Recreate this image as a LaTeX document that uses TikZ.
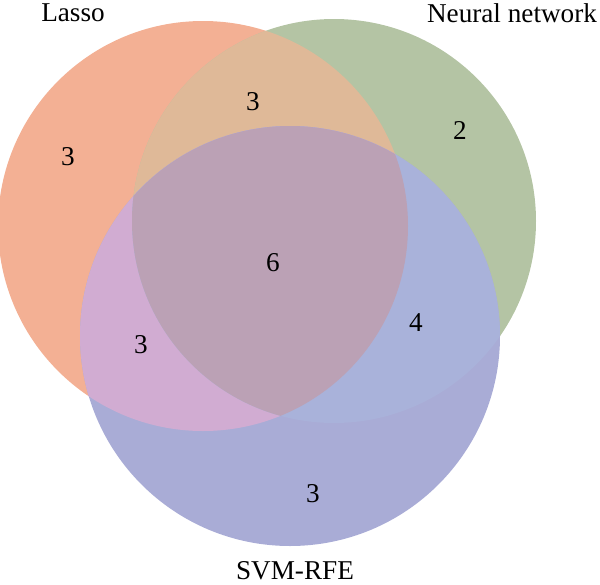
\documentclass[tikz,border=0pt]{standalone}
\usepackage{fontspec}
\setmainfont{Liberation Serif}
\usepackage{tikz}

\definecolor{lassoOnly}{HTML}{F3B094}
\definecolor{neuralOnly}{HTML}{B4C4A4}
\definecolor{svmOnly}{HTML}{A9ACD6}
\definecolor{lassoNeural}{HTML}{DFB998}
\definecolor{lassoSvm}{HTML}{D1ACD2}
\definecolor{neuralSvm}{HTML}{A9B2DA}
\definecolor{allThree}{HTML}{BBA1B5}

\newcommand{\circLasso}{(203,226) circle[radius=205]}
\newcommand{\circNeural}{(334,221) circle[radius=202]}
\newcommand{\circSvm}{(290,336) circle[radius=210]}

\tikzset{
  setname/.style={font=\fontsize{13.6}{16}\selectfont, inner sep=0pt},
  count/.style={font=\fontsize{13.6}{16}\selectfont, inner sep=0pt}
}

\begin{document}
\begin{tikzpicture}[x=0.5pt,y=-0.5pt]
    \useasboundingbox (0,0) rectangle (600,584);
    % single sets
    \fill[lassoOnly] \circLasso;
    \fill[neuralOnly] \circNeural;
    \fill[svmOnly] \circSvm;
    % pairs
    \begin{scope}
      \clip \circLasso;
      \fill[lassoNeural] \circNeural;
      \fill[lassoSvm] \circSvm;
    \end{scope}
    \begin{scope}
      \clip \circNeural;
      \fill[neuralSvm] \circSvm;
    \end{scope}
    % all three
    \begin{scope}
      \clip \circLasso;
      \clip \circNeural;
      \fill[allThree] \circSvm;
    \end{scope}
    \node[setname] (lasso) at (73,13) {Lasso};
    \node[setname] (neural) at (512,13) {Neural network};
    \node[setname] (svm) at (295,571) {SVM-RFE};
    \node[count] (n_l) at (68,157) {3};
    \node[count] (n_ln) at (253,102) {3};
    \node[count] (n_n) at (460,130) {2};
    \node[count] (n_lns) at (273,263) {6};
    \node[count] (n_ls) at (141,345) {3};
    \node[count] (n_ns) at (416,323) {4};
    \node[count] (n_s) at (313,494) {3};
  \end{tikzpicture}
\end{document}
